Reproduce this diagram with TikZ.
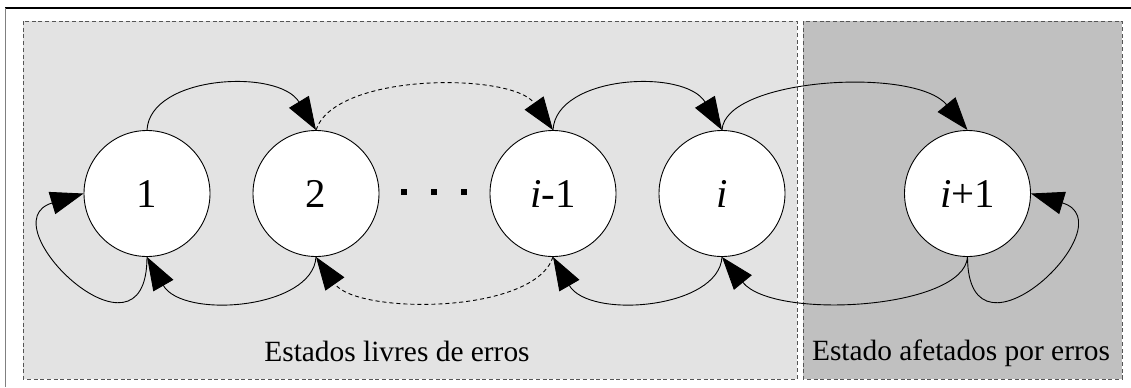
\documentclass[tikz,border=0pt]{standalone}
\usepackage{fontspec}
\setmainfont{Liberation Serif}
\usetikzlibrary{arrows.meta}
\definecolor{freefill}{HTML}{E3E3E3}
\definecolor{errfill}{HTML}{C0C0C0}
\definecolor{panelline}{HTML}{555555}
\definecolor{frameside}{HTML}{808080}
\begin{document}
\begin{tikzpicture}[x=1bp,y=-1bp,
  state/.style={circle,draw=black,line width=0.9bp,fill=white,minimum size=126bp,
    inner sep=0pt,text height=27bp,text depth=0pt,font=\fontsize{41}{48}\selectfont},
  trans/.style={line width=0.9bp,-{Triangle[length=33bp,width=23bp]}},
  dtrans/.style={trans,dash pattern=on 4bp off 3bp},
  panel/.style={draw=panelline,line width=0.9bp,dash pattern=on 4bp off 2.7bp},
  caption/.style={anchor=base,inner sep=0pt,font=\fontsize{29.5}{35}\selectfont}]
\useasboundingbox (0,0) rectangle (1131,387);

% page frame (top and left sides)
\draw[line width=1.3bp] (5,8) -- (1131,8);
\draw[line width=1.8bp,color=frameside] (5.5,8) -- (5.5,387);

% the two regions
\path[panel,fill=freefill] (23,21) rectangle (797,379);
\path[panel,fill=errfill] (803,21) rectangle (1122,379);

% states
\node[state] (c1)  at (147,193.5)   {1};
\node[state] (c2)  at (316,193.5)   {2};
\node[state] (cim) at (553,193.5)   {\textit{i}-1};
\node[state] (ci)  at (722,193.5)   {\textit{i}};
\node[state] (cip) at (967.5,193.5) {\textit{i}+1};

% ellipsis between 2 and i-1
\fill (401,189) rectangle (407,195);
\fill (431,189) rectangle (437,195);
\fill (461,189) rectangle (467,195);

% forward transitions (upper arcs)
\draw[trans]  (c1.north)  .. controls (150,75)  and (278.6,68.2)  .. (c2.north);
\draw[dtrans] (c2.north)  .. controls (335,72)  and (512.7,72.5)  .. (cim.north);
\draw[trans]  (cim.north) .. controls (556,75)  and (684.6,68.2)  .. (ci.north);
\draw[trans]  (ci.north)  .. controls (725,78)  and (914.9,66.3)  .. (cip.north);

% backward transitions (lower arcs)
\draw[trans]  (c2.south)  .. controls (313,309) and (182.8,319.5) .. (c1.south);
\draw[dtrans] (cim.south) .. controls (534,315) and (356.3,314.5) .. (c2.south);
\draw[trans]  (ci.south)  .. controls (719,309) and (588.8,319.5) .. (cim.south);
\draw[trans]  (cip.south) .. controls (964,309) and (774.1,320.7) .. (ci.south);

% self loops
\draw[trans] (c1.south)  .. controls (147,378) and (-14.4,223)  .. (c1.west);
\draw[trans] (cip.south) .. controls (968,378) and (1129.4,223) .. (cip.east);

% region captions
\node[caption] (capfree) at (397,361) {Estados livres de erros};
\node[caption] (caperr)  at (961,360) {Estado afetados por erros};
\end{tikzpicture}
\end{document}
